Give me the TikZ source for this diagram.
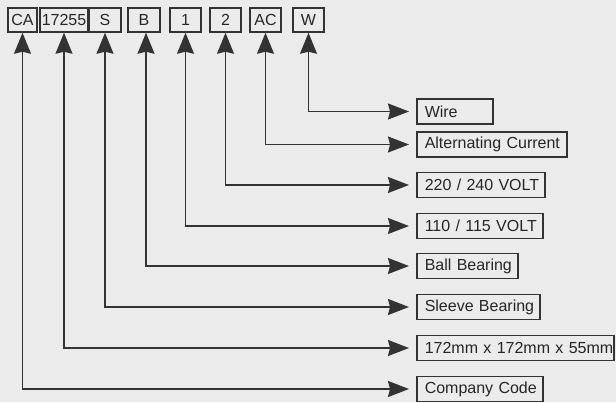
\documentclass[tikz,border=0pt]{standalone}
\usepackage{fontspec}
\setmainfont{Liberation Sans}
\usetikzlibrary{arrows.meta}
\definecolor{bg}{HTML}{EBEBEB}
\definecolor{ln}{HTML}{333333}
\definecolor{tx}{HTML}{262626}
\begin{document}
\begin{tikzpicture}[x=1pt,y=-1pt,
  font=\fontsize{16pt}{18pt}\selectfont, text=tx,
  tbox/.style={draw=ln, line width=1.5pt, minimum height=24pt, inner sep=0pt, anchor=center},
  rbox/.style={draw=ln, line width=1.5pt, minimum height=25pt, inner xsep=8pt, inner ysep=0pt, anchor=west, align=left},
  conn/.style={draw=ln, line width=1.4pt, {Stealth[length=21pt,width=17pt,inset=2pt]}-{Stealth[length=21pt,width=16pt,inset=2pt]}}]
\clip (0,0) rectangle (616,402);
\fill[bg] (0,0) rectangle (616,402);
% top boxes
\node[tbox, minimum width=29pt] (ca) at (22.5,20) {CA};
\node[tbox, minimum width=48pt] (num) at (64,20) {17255};
\node[tbox, minimum width=32pt] (s) at (105,20) {S};
\node[tbox, minimum width=32pt] (b) at (144,20) {B};
\node[tbox, minimum width=31pt] (one) at (185.5,20) {1};
\node[tbox, minimum width=31pt] (two) at (225.5,20) {2};
\node[tbox, minimum width=31pt] (ac) at (265.5,20) {AC};
\node[tbox, minimum width=31pt] (w) at (308.5,20) {W};
% right boxes
\node[rbox, text width=60pt] (wire) at (416,111.5) {\mbox{Wire}};
\node[rbox, text width=134pt] (alt) at (416,144.5) {\mbox{Alternating Current}};
\node[rbox, text width=112pt] (v220) at (416,185) {\mbox{220 / 240 VOLT}};
\node[rbox, text width=110pt] (v110) at (416,226) {\mbox{110 / 115 VOLT}};
\node[rbox, text width=85pt] (ball) at (416,266) {\mbox{Ball Bearing}};
\node[rbox, text width=107pt] (sleeve) at (416,307) {\mbox{Sleeve Bearing}};
\node[rbox, text width=181pt] (size) at (416,348) {\mbox{172mm x 172mm x 55mm}};
\node[rbox, text width=110pt] (code) at (416,389) {\mbox{Company Code}};
% connectors
\draw[conn] (w.south) |- ([xshift=-7pt]wire.west);
\draw[conn] (ac.south) |- ([xshift=-7pt]alt.west);
\draw[conn] (two.south) |- ([xshift=-7pt]v220.west);
\draw[conn] (one.south) |- ([xshift=-7pt]v110.west);
\draw[conn] ([xshift=2pt]b.south) |- ([xshift=-7pt]ball.west);
\draw[conn] (s.south) |- ([xshift=-7pt]sleeve.west);
\draw[conn] (num.south) |- ([xshift=-7pt]size.west);
\draw[conn] (ca.south) |- ([xshift=-7pt]code.west);
\end{tikzpicture}
\end{document}
